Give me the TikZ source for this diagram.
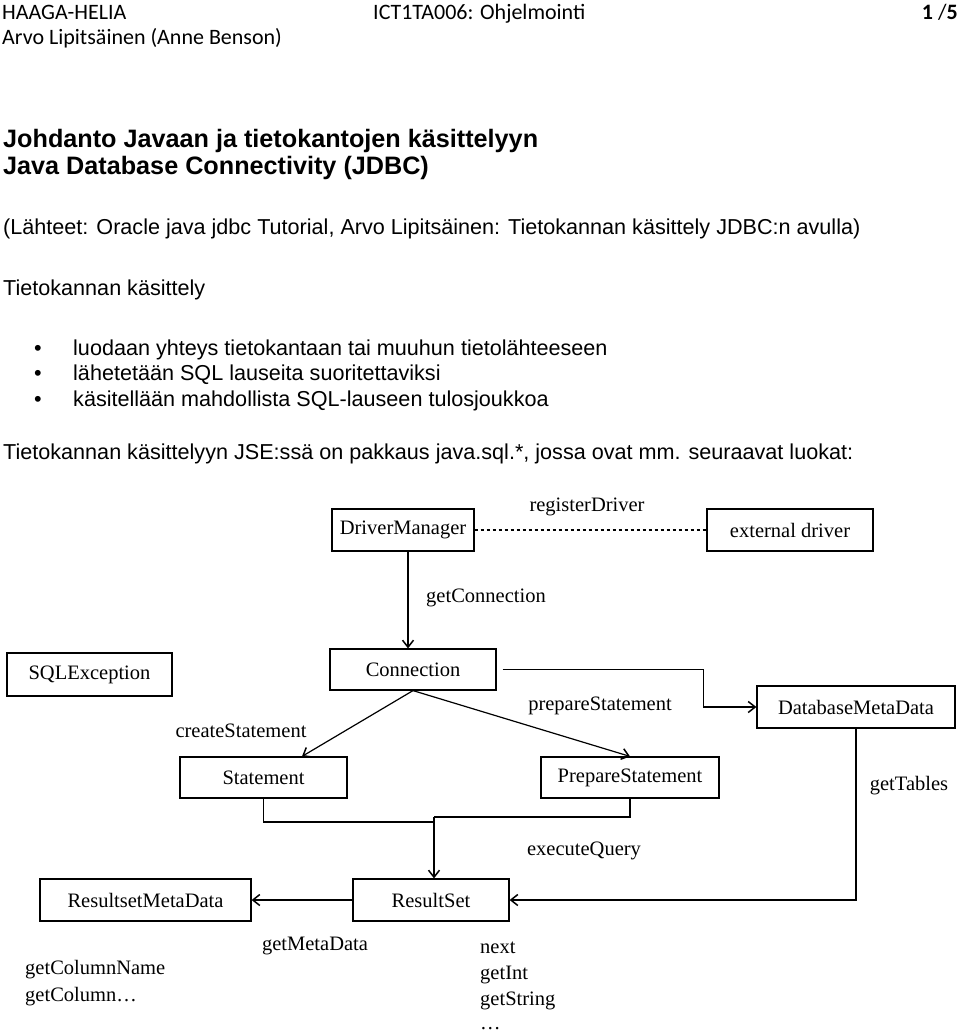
\documentclass[tikz,border=0pt]{standalone}
\usepackage{fontspec}
\setmainfont{Liberation Sans}
\newfontfamily\hdrfont{Carlito}
\newfontfamily\seriffont{Liberation Serif}
\usetikzlibrary{arrows.meta}
\begin{document}
\begin{tikzpicture}[x=1pt,y=-1pt,
 txt/.style={anchor=base west, inner sep=0pt, font=\fontsize{21.6}{25}\selectfont},
 hdr/.style={anchor=base west, inner sep=0pt, font=\hdrfont\fontsize{22}{26}\selectfont},
 ttl/.style={anchor=base west, inner sep=0pt, font=\bfseries\fontsize{25.2}{28}\selectfont},
 cls/.style={draw, line width=1.2pt, inner sep=0pt, font=\seriffont\fontsize{20.5}{24}\selectfont},
 lbl/.style={inner sep=0pt, font=\seriffont\fontsize{20.5}{24}\selectfont},
 meth/.style={anchor=base west, inner sep=0pt, font=\seriffont\fontsize{20.5}{24}\selectfont},
 conn/.style={line width=1.2pt},
 arr/.style={conn, -{Straight Barb[length=7pt,width=11pt,line width=1.5pt]}},
]
\useasboundingbox (0,0) rectangle (960,1032);
% header
\node[hdr] (h1) at (2,20) {HAAGA-HELIA};
\node[hdr] (h2) at (373,20) {ICT1TA006: Ohjelmointi};
\node[hdr, anchor=base east] (h3) at (958,20) {\textbf{1} /\textbf{5}};
\node[hdr] (h4) at (2,45) {Arvo Lipitsäinen (Anne Benson)};
% text
\node[ttl] (t1) at (3,148) {Johdanto Javaan ja tietokantojen käsittelyyn};
\node[ttl] (t2) at (3,175) {Java Database Connectivity (JDBC)};
\node[txt] (src) at (3,235) {(Lähteet: Oracle java jdbc Tutorial, Arvo Lipitsäinen: Tietokannan käsittely JDBC:n avulla)};
\node[txt] (tk) at (3,295) {Tietokannan käsittely};
\node[txt] (d1) at (34,355) {\textbullet};
\node[txt] (b1) at (73,355) {luodaan yhteys tietokantaan tai muuhun tietolähteeseen};
\node[txt] (d2) at (34,380) {\textbullet};
\node[txt] (b2) at (73,380) {lähetetään SQL lauseita suoritettaviksi};
\node[txt] (d3) at (34,406) {\textbullet};
\node[txt] (b3) at (73,406) {käsitellään mahdollista SQL-lauseen tulosjoukkoa};
\node[txt] (last) at (3,459) {Tietokannan käsittelyyn JSE:ssä on pakkaus java.sql.*, jossa ovat mm. seuraavat luokat:};
% diagram nodes
\node[cls, minimum width=142, minimum height=42] (dm) at (403,530) {DriverManager};
\node[cls, minimum width=166, minimum height=42] (ed) at (790,530) {external driver};
\node[cls, minimum width=166, minimum height=41] (cn) at (413,669.5) {Connection};
\node[cls, minimum width=165, minimum height=43] (sqle) at (89.5,674.5) {SQLException};
\node[cls, minimum width=198, minimum height=42] (dbmd) at (856,707) {DatabaseMetaData};
\node[cls, minimum width=167, minimum height=41] (st) at (263.5,777.5) {Statement};
\node[cls, minimum width=178, minimum height=41] (ps) at (630,777.5) {PrepareStatement};
\node[cls, minimum width=211, minimum height=42] (rsmd) at (145.5,900) {ResultsetMetaData};
\node[cls, minimum width=156, minimum height=42] (rs) at (431,900) {ResultSet};
% labels
\node[lbl] (lreg) at (587,507) {registerDriver};
\node[lbl] (lgc) at (486,598) {getConnection};
\node[lbl] (lps) at (600,706) {prepareStatement};
\node[lbl] (lcs) at (241,731) {createStatement};
\node[lbl] (leq) at (584,851) {executeQuery};
\node[lbl] (lgt) at (909,786) {getTables};
\node[lbl] (lgm) at (315,946) {getMetaData};
\node[meth] (m1) at (25,974) {getColumnName};
\node[meth] (m2) at (25,1001) {getColumn\dots};
\node[meth] (n1) at (480,953) {next};
\node[meth] (n2) at (480,979) {getInt};
\node[meth] (n3) at (480,1005) {getString};
\node[meth] (n4) at (480,1029) {\dots};
% connectors
\coordinate (ja) at (434,822);
\coordinate (jb) at (434,817);
\draw[conn, dash pattern=on 3pt off 3pt] (dm.east) -- (ed.west);
\draw[arr] ([xshift=5]dm.south) -- ([xshift=-5]cn.north);
\draw[arr] (cn.south) -- ([xshift=38.5]st.north);
\draw[arr] (cn.south) -- (ps.north);
\draw[arr] ([xshift=6]cn.east) -- ++(201,0) |- (dbmd.west);
\draw[arr] (dbmd.south) |- (rs.east);
\draw[arr] (rs.west) -- (rsmd.east);
\draw[conn] (st.south) |- (ja);
\draw[conn] (ps.south) |- (jb);
\draw[arr] (jb) -- ([xshift=3]rs.north);
\end{tikzpicture}
\end{document}
